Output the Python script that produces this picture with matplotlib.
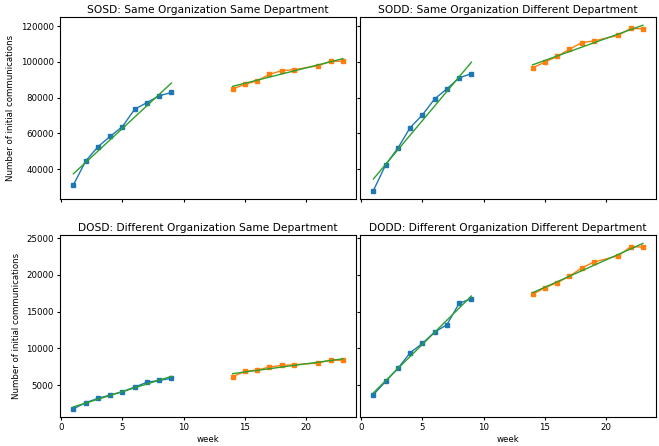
import numpy as np
import matplotlib
matplotlib.use("Agg")
import matplotlib.pyplot as plt

# weeks before and after the break
weeks_a = [1, 2, 3, 4, 5, 6, 7, 8, 9]
weeks_b = [14, 15, 16, 17, 18, 19, 21, 22, 23]

titles = ["SOSD: Same Organization Same Department",
          "SODD: Same Organization Different Department",
          "DOSD: Different Organization Same Department",
          "DODD: Different Organization Different Department"]

sosd_a = [31200, 44500, 52500, 58300, 63800, 73500, 77200, 81000, 82900]
sosd_b = [84900, 87400, 89400, 93000, 95100, 95600, 97900, 100300, 100400]
sodd_a = [28000, 42400, 51800, 63200, 70300, 79300, 84900, 91100, 93400]
sodd_b = [96700, 99900, 103100, 107000, 110800, 111700, 114900, 118700, 118500]
dosd_a = [1770, 2590, 3190, 3640, 4090, 4730, 5370, 5640, 5910]
dosd_b = [6130, 6870, 7050, 7450, 7680, 7770, 8000, 8400, 8370]
dodd_a = [3680, 5500, 7280, 9400, 10680, 12220, 13220, 16140, 16760]
dodd_b = [17360, 18260, 18940, 19820, 20950, 21760, 22620, 23850, 23800]

series = [(sosd_a, sosd_b), (sodd_a, sodd_b), (dosd_a, dosd_b), (dodd_a, dodd_b)]

fig, axes = plt.subplots(2, 2, figsize=(6.59, 4.46), dpi=100, sharex=True, sharey='row')
fig.subplots_adjust(left=0.091, right=0.996, top=0.962, bottom=0.065, wspace=0.012, hspace=0.2)

for ax, title, (ya, yb) in zip(axes.flat, titles, series):
    ax.plot(weeks_a, ya, marker='s', markersize=3.4, lw=1.0, color='C0')
    ax.plot(weeks_b, yb, marker='s', markersize=3.4, lw=1.0, color='C1')
    # linear fit for each segment
    for xs, ys in [(weeks_a, ya), (weeks_b, yb)]:
        k, b = np.polyfit(xs, ys, 1)
        xx = np.array([xs[0], xs[-1]])
        ax.plot(xx, k * xx + b, color='C2', lw=1.0)
    ax.set_title(title, fontsize=7.7, pad=3)
    ax.tick_params(labelsize=6.2, length=2.5, pad=2)

for ax in axes[:, 0]:
    ax.set_ylabel("Number of initial communications", fontsize=6.2)
for ax in axes[1, :]:
    ax.set_xlabel("week", fontsize=6.2, labelpad=2)

fig.savefig("out.png", dpi=100)
